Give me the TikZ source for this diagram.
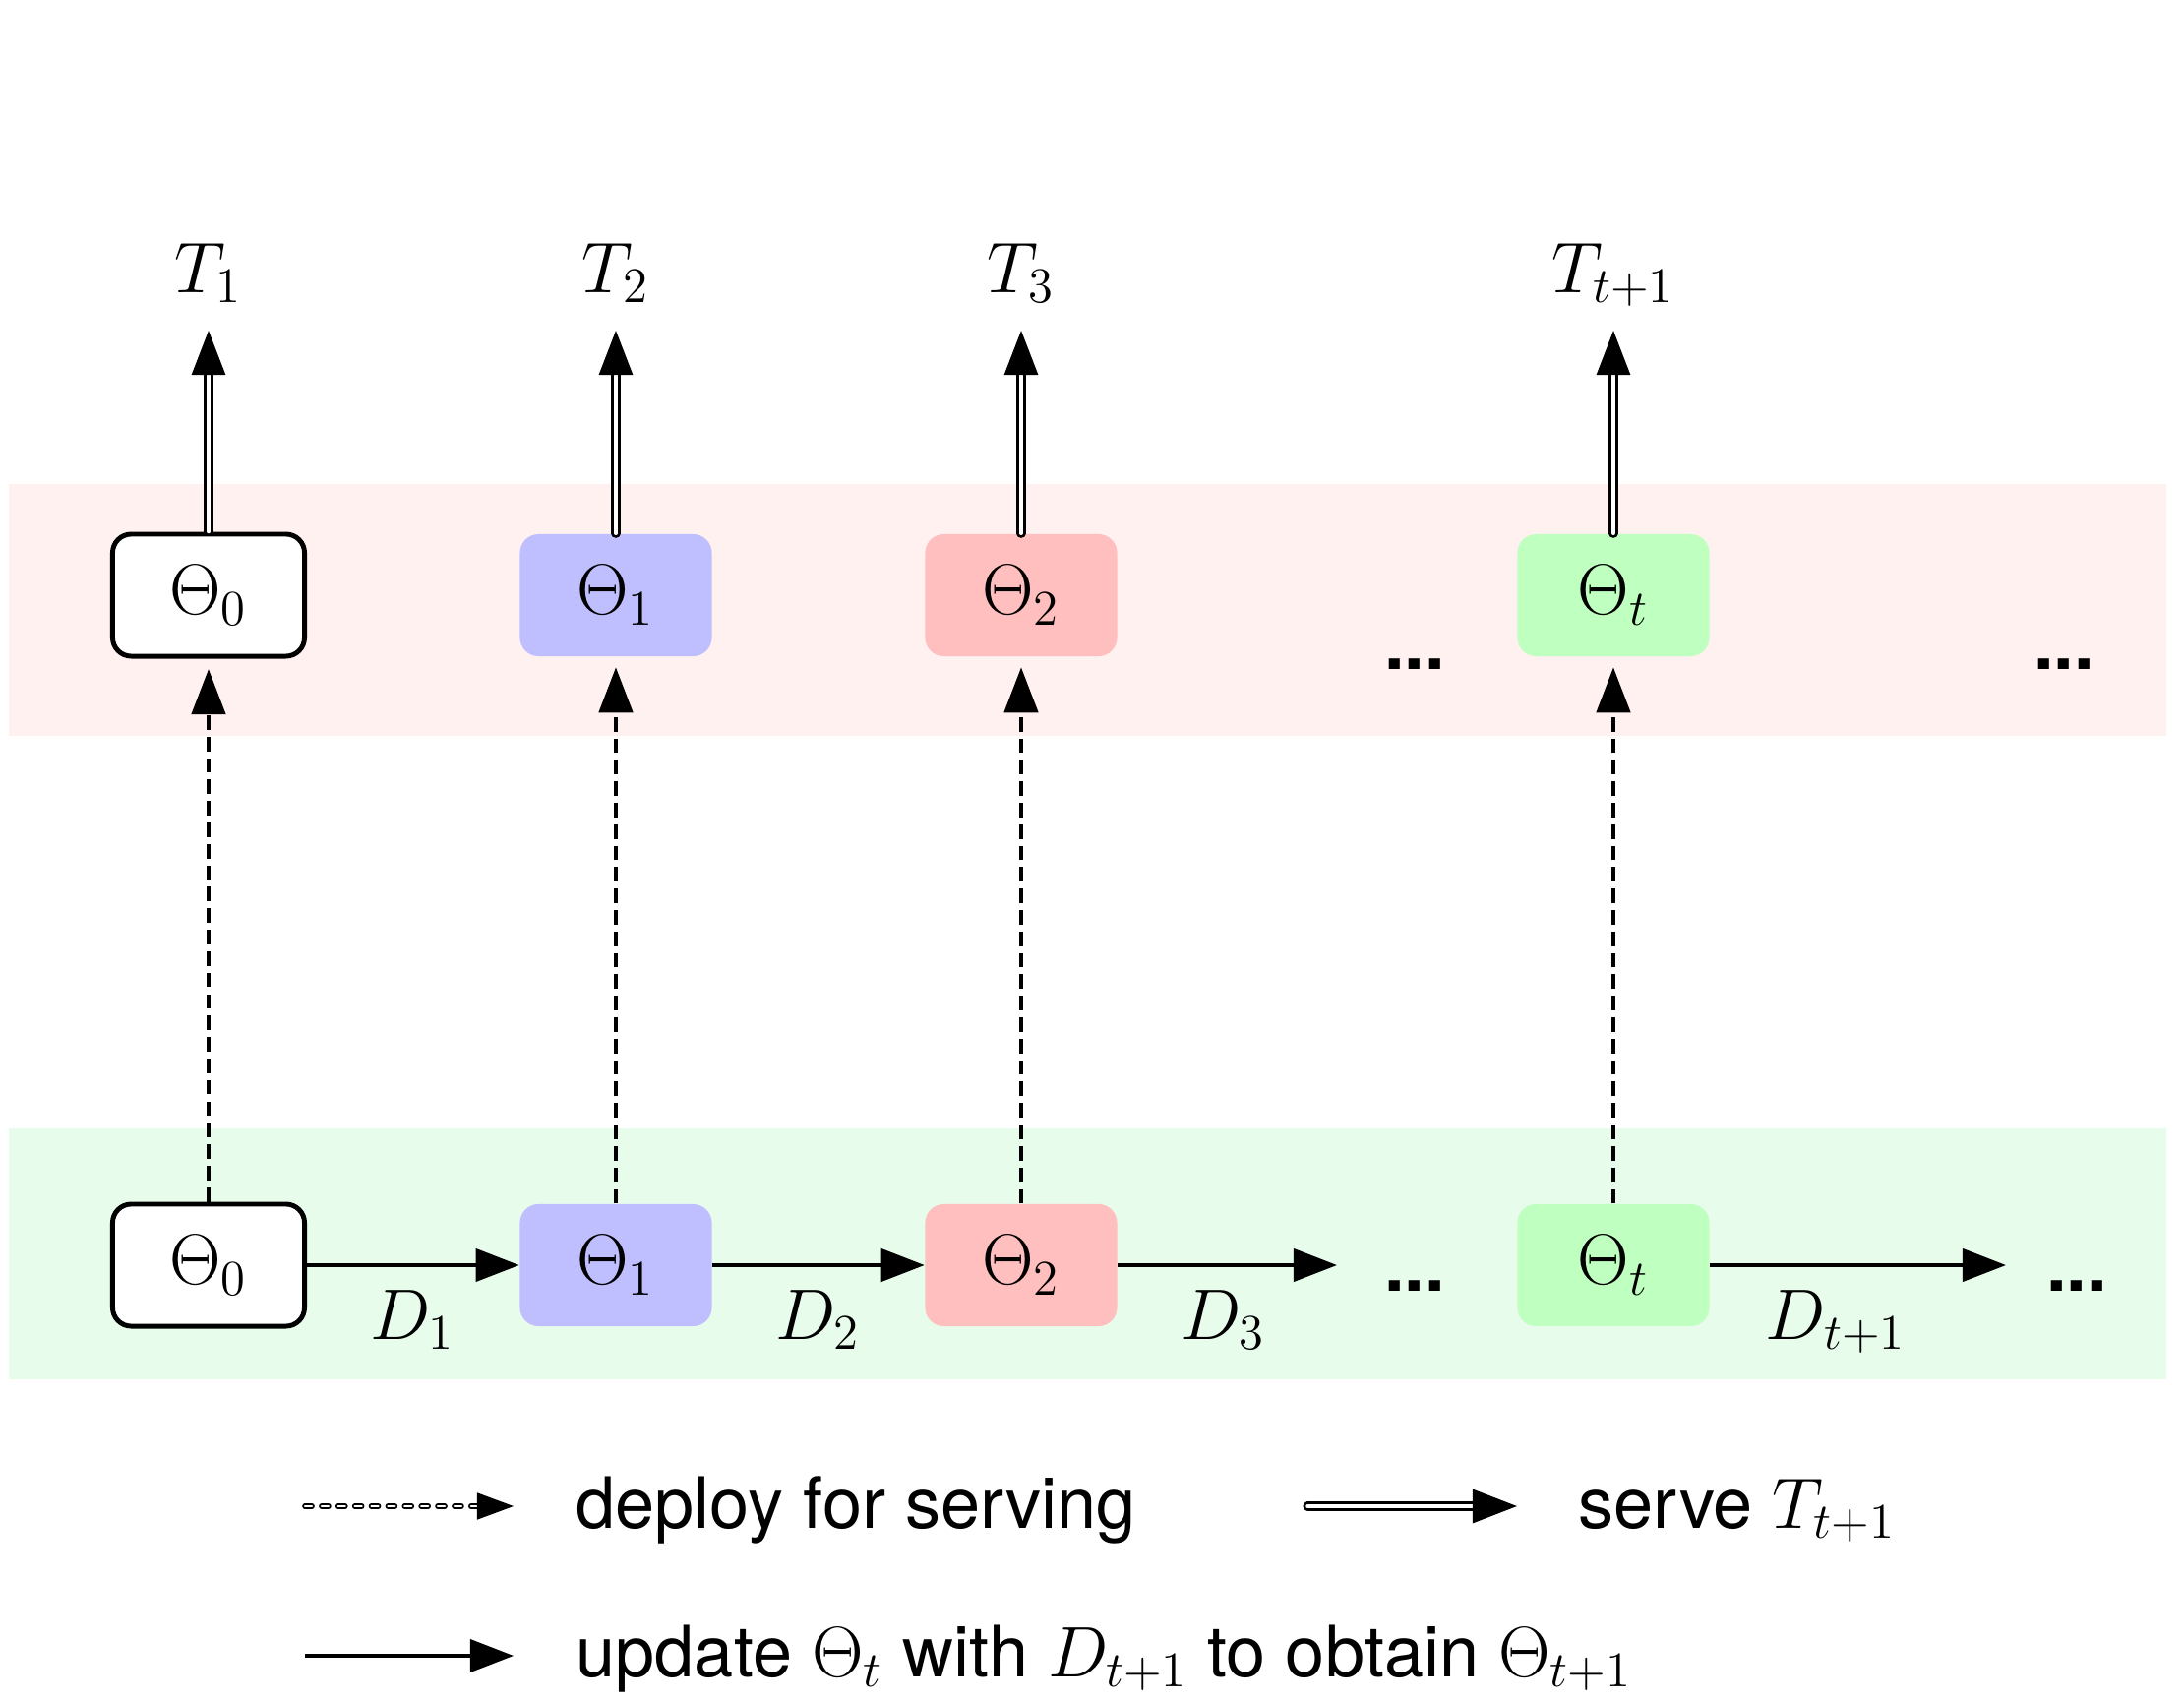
\documentclass[tikz,border=0pt]{standalone}
\usepackage{fontspec}
\setsansfont{TeX Gyre Heros}
\usetikzlibrary{arrows.meta}
\definecolor{bandpink}{RGB}{255,241,240}
\definecolor{bandgreen}{RGB}{232,252,236}
\definecolor{mblue}{RGB}{191,191,255}
\definecolor{mpink}{RGB}{255,191,191}
\definecolor{mgreen}{RGB}{191,255,191}
\tikzset{
  model/.style={rectangle, rounded corners=0.19cm, minimum width=1.95cm, minimum height=1.24cm, inner sep=0pt, font=\fontsize{20.5}{24}\selectfont},
  modelzero/.style={model, draw=black, line width=1.4pt, fill=white},
  lbl/.style={inner sep=0pt, anchor=base, font=\fontsize{20.5}{24}\selectfont},
  dotsnode/.style={inner sep=0pt, font=\sffamily\bfseries\fontsize{21}{24}\selectfont},
  legtxt/.style={inner sep=0pt, anchor=base west, font=\sffamily\fontsize{20.5}{24}\selectfont},
  updarrow/.style={line width=1.1pt, -{Triangle[length=0.44cm,width=0.33cm]}},
  servearrow/.style={double=white, draw=black, line width=0.8pt, double distance=1pt, line cap=round, -{Triangle[length=0.45cm,width=0.34cm]}},
  deployarrow/.style={line width=1.3pt, dash pattern=on 4.2pt off 2pt, -{Triangle[length=0.46cm,width=0.34cm]}},
  legdeploy/.style={double=white, draw=black, line width=0.45pt, double distance=0.7pt, line cap=round, dash pattern=on 2pt off 2.8pt, -{Triangle[length=0.37cm,width=0.27cm]}}
}
\begin{document}
\begin{tikzpicture}[x=0.01cm,y=-0.01cm]
\useasboundingbox (0,0) rectangle (2220,1730);
% bands
\fill[bandpink] (9,492) rectangle (2202,748);
\fill[bandgreen] (9,1147) rectangle (2202,1402);
% top row models
\node[modelzero] (a0) at (212,605) {$\Theta_0$};
\node[model, fill=mblue] (a1) at (626,605) {$\Theta_1$};
\node[model, fill=mpink] (a2) at (1038,605) {$\Theta_2$};
\node[model, fill=mgreen] (at) at (1640,605) {$\Theta_t$};
% bottom row models
\node[modelzero] (b0) at (212,1286) {$\Theta_0$};
\node[model, fill=mblue] (b1) at (626,1286) {$\Theta_1$};
\node[model, fill=mpink] (b2) at (1038,1286) {$\Theta_2$};
\node[model, fill=mgreen] (bt) at (1640,1286) {$\Theta_t$};
% T labels
\node[lbl] (t1) at (212,297) {$T_1$};
\node[lbl] (t2) at (626,297) {$T_2$};
\node[lbl] (t3) at (1038,297) {$T_3$};
\node[lbl] (tt) at (1640,297) {$T_{t+1}$};
\coordinate (e1) at (212,336);
\coordinate (e2) at (626,336);
\coordinate (e3) at (1038,336);
\coordinate (et) at (1640,336);
% serve arrows
\draw[servearrow] (a0) -- (e1);
\draw[servearrow] (a1) -- (e2);
\draw[servearrow] (a2) -- (e3);
\draw[servearrow] (at) -- (et);
% deploy arrows
\draw[deployarrow, shorten >=3pt] (b0) -- (a0);
\draw[deployarrow, shorten >=3pt] (b1) -- (a1);
\draw[deployarrow, shorten >=3pt] (b2) -- (a2);
\draw[deployarrow, shorten >=3pt] (bt) -- (at);
% update arrows
\coordinate (c3) at (1359,1286);
\coordinate (c4) at (2039,1286);
\draw[updarrow] (b0) -- (b1);
\draw[updarrow] (b1) -- (b2);
\draw[updarrow] (b2) -- (c3);
\draw[updarrow] (bt) -- (c4);
% D labels
\node[lbl] (d1) at (419,1361) {$D_1$};
\node[lbl] (d2) at (831,1361) {$D_2$};
\node[lbl] (d3) at (1243,1361) {$D_3$};
\node[lbl] (dt) at (1866,1361) {$D_{t+1}$};
% dots
\node[dotsnode] (dotA) at (1438,675) {...};
\node[dotsnode] (dotB) at (2098,675) {...};
\node[dotsnode] (dotC) at (1438,1307) {...};
\node[dotsnode] (dotD) at (2111,1307) {...};
% legend
\coordinate (l1s) at (310,1531);
\coordinate (l1e) at (522,1531);
\draw[legdeploy] (l1s) -- (l1e);
\node[legtxt] (lt1) at (585,1553) {deploy for serving};
\coordinate (l2s) at (1329,1531);
\coordinate (l2e) at (1542,1531);
\draw[servearrow] (l2s) -- (l2e);
\node[legtxt] (lt2) at (1604,1553) {serve $T_{t+1}$};
\coordinate (l3s) at (310,1683);
\coordinate (l3e) at (522,1683);
\draw[updarrow] (l3s) -- (l3e);
\node[legtxt] (lt3) at (585,1704) {update $\Theta_t$ with $D_{t+1}$ to obtain $\Theta_{t+1}$};
\end{tikzpicture}
\end{document}
